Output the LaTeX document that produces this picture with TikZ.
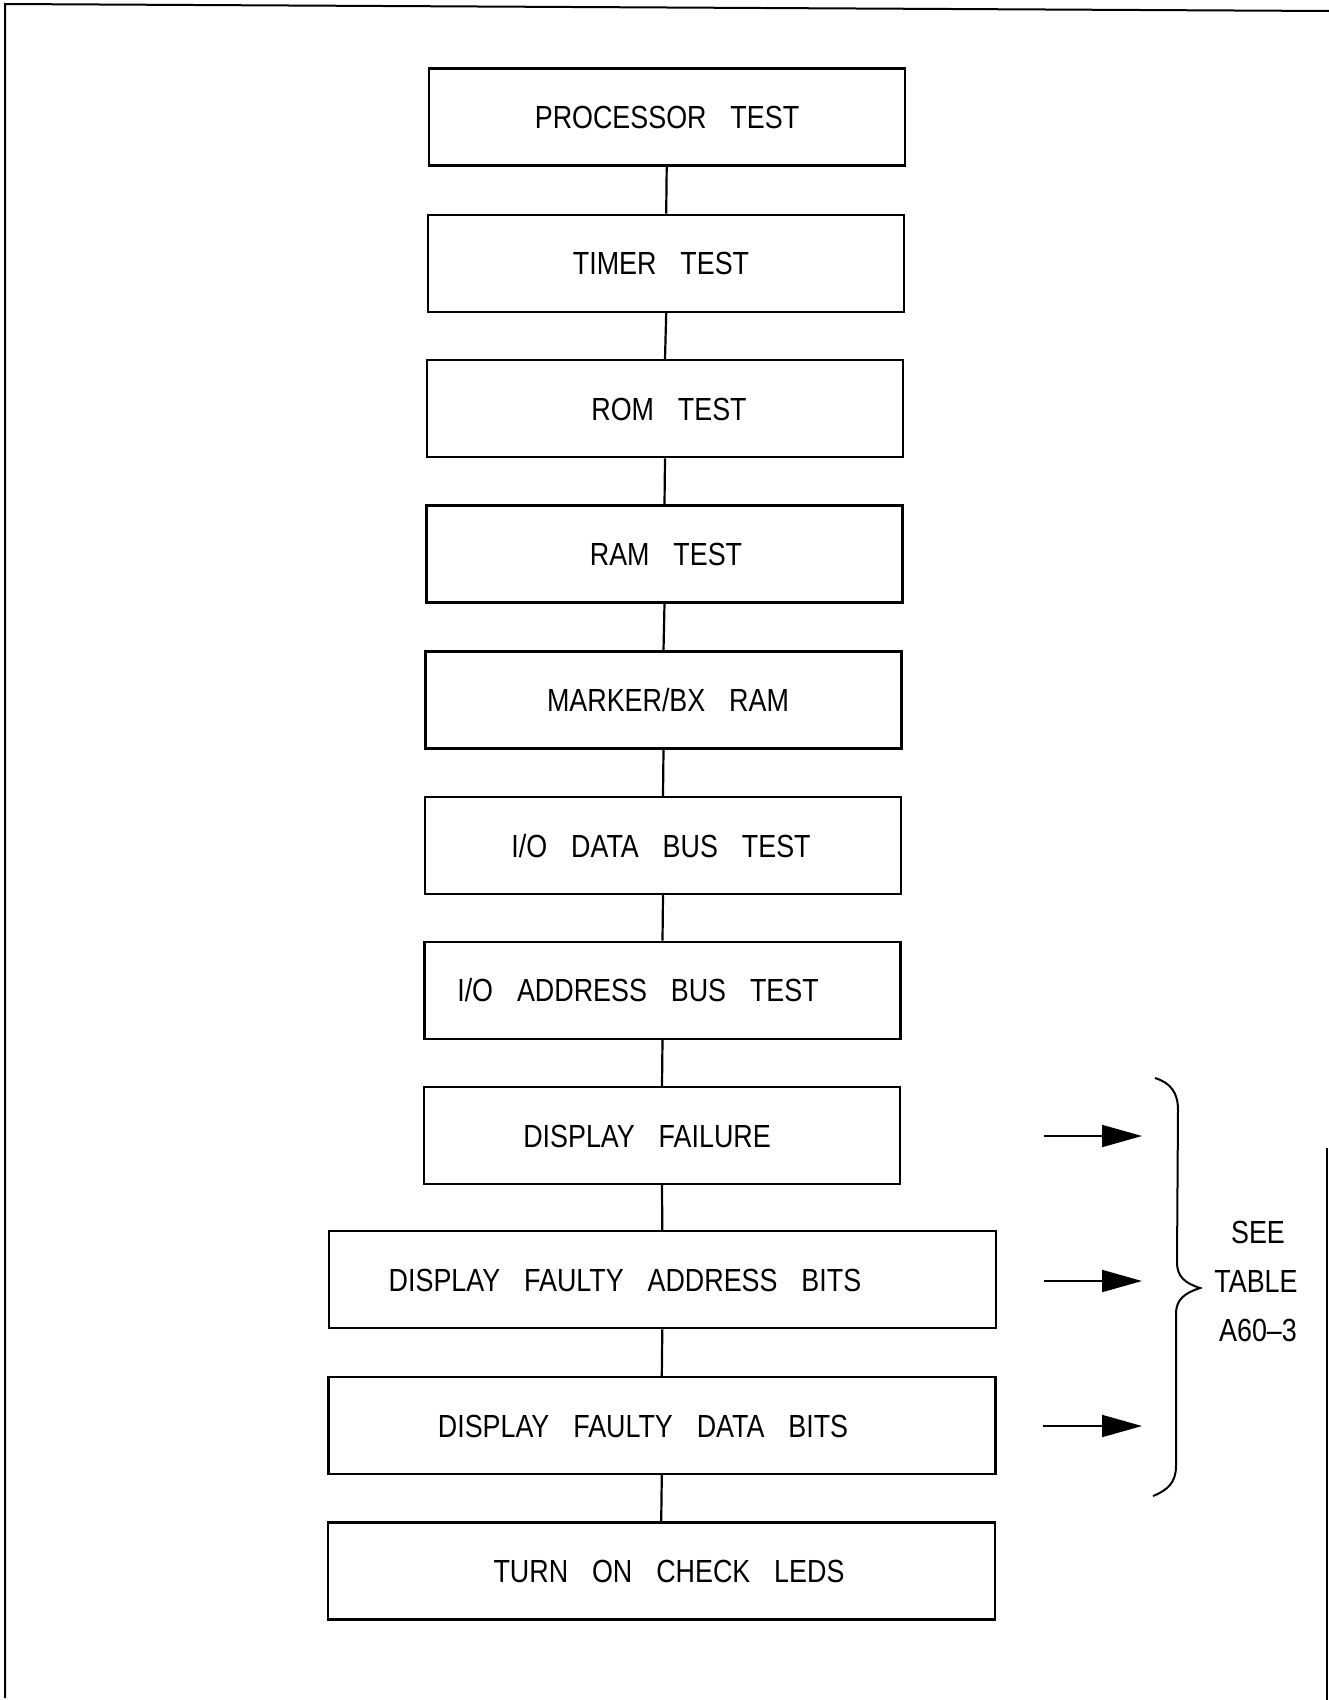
\documentclass[tikz,border=0pt]{standalone}
\usepackage{fontspec}
\setmainfont{Liberation Sans}
\newfontfamily\lblfont[FakeStretch=0.84,WordSpace=3.2]{Liberation Sans}
\usetikzlibrary{arrows.meta}
\begin{document}
\begin{tikzpicture}[x=1pt,y=-1pt,
  box/.style={draw, line width=2.4pt, minimum width=476pt, minimum height=97pt, inner sep=0pt},
  widebox/.style={box, minimum width=667pt},
  lbl/.style={font=\lblfont\fontsize{32}{36}\selectfont, anchor=base, inner sep=0pt},
  link/.style={line width=2.2pt},
  ptr/.style={line width=2pt, -{Triangle[length=40pt,width=22pt]}},
  frameline/.style={line width=2pt}]
\useasboundingbox (0,0) rectangle (1329,1700);
% frame
\draw[frameline] (5,1698) -- (5,4) -- (1329,11);
\draw[frameline] (1327,1148) -- (1327,1700);
% boxes
\node[box] (b1) at (666.7,117.1) {};
\node[box] (b2) at (666.2,263.4) {};
\node[box] (b3) at (665.0,408.7) {};
\node[box] (b4) at (664.5,553.9) {};
\node[box] (b5) at (663.5,700.0) {};
\node[box] (b6) at (663.0,845.5) {};
\node[box] (b7) at (662.5,990.2) {};
\node[box] (b8) at (662.0,1135.5) {};
\node[widebox] (b9) at (662.3,1279.7) {};
\node[widebox] (b10) at (661.8,1425.5) {};
\node[widebox] (b11) at (661.2,1570.8) {};
% labels
\node[lbl] (t1) at (667,128.6) {PROCESSOR TEST};
\node[lbl] (t2) at (661,274.9) {TIMER TEST};
\node[lbl] (t3) at (669,420.2) {ROM TEST};
\node[lbl] (t4) at (666,565.4) {RAM TEST};
\node[lbl] (t5) at (668,711.5) {MARKER/BX RAM};
\node[lbl] (t6) at (661,857.0) {I/O DATA BUS TEST};
\node[lbl] (t7) at (638,1001.7) {I/O ADDRESS BUS TEST};
\node[lbl] (t8) at (647,1147.0) {DISPLAY FAILURE};
\node[lbl] (t9) at (625,1291.2) {DISPLAY FAULTY ADDRESS BITS};
\node[lbl] (t10) at (643,1437.0) {DISPLAY FAULTY DATA BITS};
\node[lbl] (t11) at (669,1582.3) {TURN ON CHECK LEDS};
% connectors
\draw[link] (b1.south) -- (b2.north);
\draw[link] (b2.south) -- (b3.north);
\draw[link] (b3.south) -- (b4.north);
\draw[link] (b4.south) -- (b5.north);
\draw[link] (b5.south) -- (b6.north);
\draw[link] (b6.south) -- (b7.north);
\draw[link] (b7.south) -- (b8.north);
\draw[link] (b8.south) -- (b9.north);
\draw[link] (b9.south) -- (b10.north);
\draw[link] (b10.south) -- (b11.north);
% arrows
\coordinate (a1s) at (1044,1136);
\coordinate (a1e) at (1142,1136);
\coordinate (a2s) at (1044,1281);
\coordinate (a2e) at (1142,1281);
\coordinate (a3s) at (1043,1426);
\coordinate (a3e) at (1142,1426);
\draw[ptr] (a1s) -- (a1e);
\draw[ptr] (a2s) -- (a2e);
\draw[ptr] (a3s) -- (a3e);
% brace
\draw[line width=2pt] (1155,1078) .. controls (1171,1083) and (1178,1093) .. (1178,1110)
  -- (1177,1262) .. controls (1177,1277) and (1185,1283) .. (1200,1288)
  .. controls (1185,1293) and (1176,1299) .. (1176,1314)
  -- (1176,1466) .. controls (1176,1482) and (1168,1490) .. (1153,1496);
% side text
\node[lbl] (see) at (1258,1243.5) {SEE};
\node[lbl] (table) at (1256,1292.5) {TABLE};
\node[lbl] (ref) at (1258,1341.5) {A60–3};
\end{tikzpicture}
\end{document}
